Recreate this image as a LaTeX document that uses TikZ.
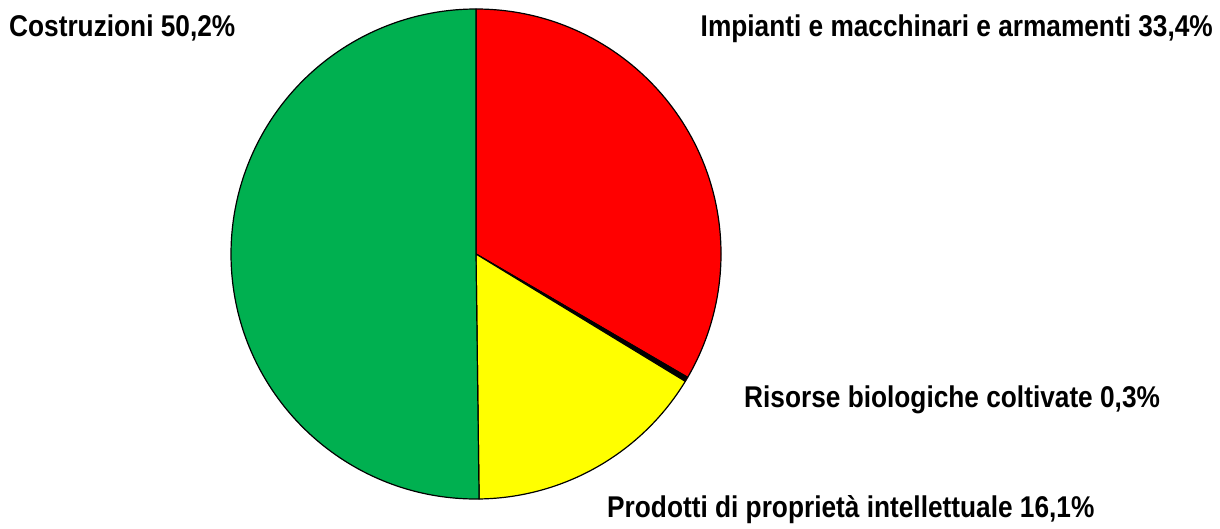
\documentclass[tikz,border=0pt]{standalone}
\usepackage{fontspec}
\setmainfont{Liberation Sans}[FakeStretch=0.875]
\definecolor{slicegreen}{HTML}{00B050}
\definecolor{slicered}{HTML}{FF0000}
\definecolor{sliceyellow}{HTML}{FFFF00}
\tikzset{
  slice/.style={draw=black, line width=1.2pt, line join=round},
  lbl/.style={font=\fontsize{30}{34}\selectfont\bfseries, inner sep=0pt}
}
\begin{document}
\begin{tikzpicture}[x=1pt, y=1pt]
            \useasboundingbox (0, 0) rectangle (1220, -528);
            \coordinate (c) at (476, -254);

            \filldraw[slice, fill=slicered] (c) -- ++(90:245) arc (90:-30.24:245) -- cycle;
            \filldraw[slice, fill=black] (c) -- ++(-30.24:245) arc (-30.24:-31.32:245) -- cycle;
            \filldraw[slice, fill=sliceyellow] (c) -- ++(-31.32:245) arc (-31.32:-89.28:245) -- cycle;
            \filldraw[slice, fill=slicegreen] (c) -- ++(-89.28:245) arc (-89.28:-270:245) -- cycle;

            \node[lbl, anchor=base west] (costr) at (9, -36.5) {Costruzioni 50,2\%};
            \node[lbl, anchor=base east] (impi) at (1213, -36.5) {Impianti e macchinari e armamenti 33,4\%};
            \node[lbl, anchor=base west] (riso) at (744, -407) {Risorse biologiche coltivate 0,3\%};
            \node[lbl, anchor=base west] (prod) at (607, -517) {Prodotti di proprietà intellettuale 16,1\%};
        \end{tikzpicture}
\end{document}
